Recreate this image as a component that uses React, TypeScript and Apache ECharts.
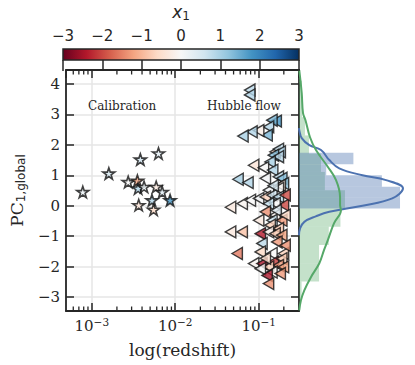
import React, { useEffect, useRef } from 'react';
import * as echarts from 'echarts';

// Calibration sample (stars)
const CAL_Z = [0.00078, 0.0016, 0.00382, 0.0063, 0.00273, 0.00352, 0.00359, 0.00423, 0.00591, 0.00697, 0.00867, 0.00526, 0.00365, 0.0055];
const CAL_PC1 = [0.45, 1.06, 1.52, 1.72, 0.78, 0.82, 0.57, 0.62, 0.62, 0.45, 0.18, 0.18, 0.02, -0.13];
const CAL_X1 = [0.2, 0.5, 0.6, 0.3, 0.0, -1.2, 0.9, 0.2, -0.3, 0.4, 1.8, 0.9, -0.4, -0.6];

// Hubble-flow sample (triangles)
const HF_Z = [0.078, 0.078, 0.162, 0.144, 0.131, 0.126, 0.0998, 0.083, 0.0647, 0.157, 0.172, 0.181, 0.150, 0.172, 0.137, 0.0869, 0.114, 0.147, 0.172, 0.189, 0.0565, 0.0743, 0.120, 0.198, 0.181, 0.172, 0.131, 0.046, 0.0634, 0.0794, 0.0998, 0.120, 0.144, 0.172, 0.198, 0.157, 0.131, 0.120, 0.157, 0.0998, 0.144, 0.189, 0.137, 0.172, 0.046, 0.0634, 0.1045, 0.131, 0.157, 0.189, 0.1094, 0.165, 0.0552, 0.1045, 0.144, 0.198, 0.0869, 0.1094, 0.150, 0.189, 0.172, 0.131, 0.198, 0.1045, 0.144, 0.181, 0.126, 0.131, 0.207, 0.149, 0.162, 0.207, 0.207, 0.120];
const HF_PC1 = [3.80, 3.64, 2.78, 2.81, 2.59, 2.32, 2.47, 2.43, 2.29, 1.77, 1.86, 1.77, 1.66, 1.61, 1.44, 1.33, 1.25, 1.17, 0.95, 0.90, 0.87, 0.76, 0.90, 0.73, 0.67, 0.57, 0.51, -0.05, 0.07, 0.18, 0.24, 0.29, 0.35, 0.29, 0.02, 0.07, 0.07, -0.20, -0.31, -0.48, -0.48, -0.48, -0.64, -0.75, -0.86, -0.86, -0.92, -0.86, -0.92, -0.97, -1.24, -1.19, -1.57, -1.52, -1.57, -1.57, -1.90, -1.90, -1.85, -1.74, -1.96, -2.01, -2.01, -2.07, -2.18, -2.23, -2.29, -2.56, 0.35, 0.66, -0.15, -0.31, -1.30, -1.73];
const HF_X1 = [0.8, 0.9, 1.8, 1.4, 0.9, 1.4, -0.2, 0.9, 1.0, -0.6, 0.7, 0.9, 1.3, 0.8, 1.0, -0.4, 0.0, 0.9, 0.7, 1.3, 1.0, 0.9, 0.1, 1.2, -0.5, 0.0, 0.1, -0.3, -0.1, 0.0, 0.1, -0.7, 0.6, 0.8, -2.0, 0.0, 0.7, -1.4, -0.1, -0.3, 0.7, -1.3, -0.7, -0.8, -0.3, -0.9, -2.4, -0.2, -0.8, -1.2, 0.8, -1.3, -1.6, -0.6, 0.0, -0.7, -0.1, -2.5, -2.1, -0.8, -1.3, -0.7, -1.2, 0.0, -0.1, -1.3, -2.5, -1.4, -2.0, 0.5, 0.4, -0.6, -1.4, -0.5];

// Marginal histograms (density)
const BLUE_EDGES = [-0.09, 0.26, 0.62, 1.0, 1.36, 1.74];
const BLUE_DENS = [0.78, 0.78, 0.64, 0.21, 0.42];
const GREEN_EDGES = [-3.09, -2.49, -1.89, -1.29, -0.69, -0.09, 0.51, 1.11, 1.71, 2.31, 2.91, 3.51, 4.11];
const GREEN_DENS = [0.02, 0.155, 0.155, 0.23, 0.32, 0.355, 0.2, 0.17, 0.077, 0.046, 0.023, 0.023];

// KDE curves
const BLUE_KDE_Y = [2.55, 2.48, 2.22, 1.99, 1.83, 1.5, 1.23, 1.0, 0.84, 0.57, 0.24, 0.0, -0.2, -0.35, -0.53, -0.75, -0.97];
const BLUE_KDE_D = [0, 0.002, 0.021, 0.08, 0.17, 0.234, 0.311, 0.49, 0.672, 0.803, 0.72, 0.49, 0.234, 0.13, 0.041, 0.008, 0];
const GREEN_KDE_Y = [4.46, 3.7, 3.04, 2.81, 2.25, 1.83, 1.28, 0.84, 0.29, 0.02, -0.15, -0.58, -1.14, -1.46, -1.89, -2.34, -2.78, -3.11, -3.44];
const GREEN_KDE_D = [0.002, 0.021, 0.031, 0.05, 0.085, 0.131, 0.222, 0.286, 0.317, 0.317, 0.324, 0.27, 0.222, 0.193, 0.157, 0.093, 0.041, 0.015, 0.002];

const MINOR_TICKS = [6e-4, 7e-4, 8e-4, 9e-4, 2e-3, 3e-3, 4e-3, 5e-3, 6e-3, 7e-3, 8e-3, 9e-3, 2e-2, 3e-2, 4e-2, 5e-2, 6e-2, 7e-2, 8e-2, 9e-2, 2e-1];

const RDBU = ['#67001f', '#b2182b', '#d6604d', '#f4a582', '#fddbc7', '#f7f7f7', '#d1e5f0', '#92c5de', '#4393c3', '#2166ac', '#053061'];

const X_MIN = 4.91e-4;
const X_MAX = 0.304;
const Y_MIN = -3.46;
const Y_MAX = 4.46;

const INK = '#262626';
const SERIF = 'DejaVu Serif';
const SANS = 'DejaVu Sans';
const STAR = 'path://M50,0 L61.8,35.1 L98.8,35.1 L68.8,57.3 L79.4,92.7 L50,71 L20.6,92.7 L31.2,57.3 L1.2,35.1 L38.2,35.1 Z';
const TRI = 'path://M0,50 L87,0 L87,100 Z';

function buildOption() {
  const cal = CAL_Z.map((z, i) => [z, CAL_PC1[i], CAL_X1[i]]);
  const hf = HF_Z.map((z, i) => [z, HF_PC1[i], HF_X1[i]]);
  const blueHist = BLUE_DENS.map((d, i) => [BLUE_EDGES[i], BLUE_EDGES[i + 1], d]);
  const greenHist = GREEN_DENS.map((d, i) => [GREEN_EDGES[i], GREEN_EDGES[i + 1], d]);
  const blueKde = BLUE_KDE_Y.map((y, i) => [BLUE_KDE_D[i], y]);
  const greenKde = GREEN_KDE_Y.map((y, i) => [GREEN_KDE_D[i], y]);

  const histRender = (fill: string) => (params: any, api: any) => {
    const lo = api.value(0);
    const hi = api.value(1);
    const d = api.value(2);
    const p1 = api.coord([0, hi]);
    const p2 = api.coord([d, lo]);
    return {
      type: 'rect',
      shape: { x: p1[0], y: p1[1], width: p2[0] - p1[0], height: p2[1] - p1[1] },
      style: { fill },
    };
  };

  const axisLine = { show: true, onZero: false, lineStyle: { color: INK, width: 1.8 } };
  const majorTick = { show: true, inside: true, length: 8, lineStyle: { color: INK, width: 1.5 } };
  const split = { show: true, lineStyle: { color: '#e6e6e6', width: 1.5 } };

  return {
    animation: false,
    backgroundColor: '#ffffff',
    grid: [
      { left: 64, top: 70, width: 235, height: 241 },
      { left: 299, top: 70, width: 106, height: 241 },
      { left: 63, top: 49, width: 236, height: 11, show: true, borderColor: INK, borderWidth: 1.5, backgroundColor: 'transparent', z: 10 },
    ],
    visualMap: {
      type: 'continuous',
      show: false,
      min: -3,
      max: 3,
      dimension: 2,
      seriesIndex: [0, 1],
      inRange: { color: RDBU },
    },
    graphic: [
      {
        type: 'rect',
        z: 1,
        shape: { x: 63, y: 49, width: 236, height: 11 },
        style: {
          fill: {
            type: 'linear', x: 0, y: 0, x2: 1, y2: 0,
            colorStops: RDBU.map((c, i) => ({ offset: i / (RDBU.length - 1), color: c })),
          },
        },
      },
      { type: 'text', z: 20, x: 88, y: 100, style: { text: 'Calibration', font: `12px "${SERIF}"`, fill: INK } },
      { type: 'text', z: 20, x: 207, y: 100, style: { text: 'Hubble flow', font: `12px "${SERIF}"`, fill: INK } },
    ],
    xAxis: [
      {
        type: 'log', gridIndex: 0, logBase: 10, min: X_MIN, max: X_MAX, position: 'bottom',
        axisLine, axisTick: majorTick, splitLine: split,
        axisLabel: {
          show: true, margin: 5, showMinLabel: false, showMaxLabel: false, color: INK,
          formatter: (v: number) => `{b|10}{s|−${Math.abs(Math.round(Math.log10(v)))}}`,
          rich: {
            b: { fontFamily: SERIF, fontSize: 15, color: INK },
            s: { fontFamily: SERIF, fontSize: 10.5, color: INK, padding: [0, 0, 9, 0] },
          },
        },
        name: 'log(redshift)', nameLocation: 'middle', nameGap: 30,
        nameTextStyle: { fontFamily: SERIF, fontSize: 17, color: INK },
      },
      {
        type: 'log', gridIndex: 0, logBase: 10, min: X_MIN, max: X_MAX, position: 'top',
        axisLine, axisTick: majorTick, splitLine: { show: false }, axisLabel: { show: false },
      },
      { type: 'value', gridIndex: 1, min: 0, max: 0.8185, show: false },
      {
        type: 'value', gridIndex: 2, min: -3, max: 3, interval: 1, position: 'top', z: 10,
        axisLine: { show: false }, splitLine: { show: false },
        axisTick: { show: true, inside: true, length: 11, lineStyle: { color: INK, width: 1.5 } },
        axisLabel: { show: true, margin: 6, fontFamily: SANS, fontSize: 15, color: INK, formatter: (v: number) => (v < 0 ? `−${-v}` : `${v}`) },
        name: '{i|x}{s|1}', nameLocation: 'middle', nameGap: 27,
        nameTextStyle: {
          rich: {
            i: { fontFamily: SANS, fontStyle: 'italic', fontSize: 17, color: INK },
            s: { fontFamily: SANS, fontSize: 12, color: INK, padding: [8, 0, 0, 0] },
          },
        },
      },
    ],
    yAxis: [
      {
        type: 'value', gridIndex: 0, min: Y_MIN, max: Y_MAX, splitNumber: 8, position: 'left',
        axisLine, axisTick: majorTick, splitLine: split,
        axisLabel: {
          show: true, margin: 6, showMinLabel: false, showMaxLabel: false,
          fontFamily: SERIF, fontSize: 15, color: INK,
          formatter: (v: number) => (v < 0 ? `−${-v}` : `${v}`),
        },
        name: '{a|PC}{b|1,global}', nameLocation: 'middle', nameRotate: 90, nameGap: 30,
        nameTextStyle: {
          rich: {
            a: { fontFamily: SERIF, fontSize: 17, color: INK },
            b: { fontFamily: SANS, fontSize: 12, color: INK, padding: [9, 0, 0, 0] },
          },
        },
      },
      {
        type: 'value', gridIndex: 0, min: Y_MIN, max: Y_MAX, splitNumber: 8, position: 'right',
        axisLine, axisTick: majorTick, splitLine: { show: false }, axisLabel: { show: false },
      },
      { type: 'value', gridIndex: 1, min: Y_MIN, max: Y_MAX, show: false },
      { type: 'value', gridIndex: 2, min: 0, max: 1, show: false },
    ],
    series: [
      {
        type: 'scatter', xAxisIndex: 0, yAxisIndex: 0, data: cal,
        symbol: STAR, symbolSize: 12, symbolKeepAspect: true,
        itemStyle: { borderColor: '#111', borderWidth: 1.6 }, z: 5,
      },
      {
        type: 'scatter', xAxisIndex: 0, yAxisIndex: 0, data: hf,
        symbol: TRI, symbolSize: 12, symbolKeepAspect: true,
        itemStyle: { borderColor: '#111', borderWidth: 1.4 }, z: 5,
      },
      {
        type: 'custom', xAxisIndex: 0, yAxisIndex: 0, silent: true, z: 6,
        data: MINOR_TICKS.map((v) => [v, 0]), encode: { x: 0, y: 1 },
        renderItem: (params: any, api: any) => {
          const cs = params.coordSys;
          const px = api.coord([api.value(0), 0])[0];
          const st = { stroke: INK, lineWidth: 1.3 };
          return {
            type: 'group',
            children: [
              { type: 'line', shape: { x1: px, y1: cs.y + cs.height, x2: px, y2: cs.y + cs.height - 4.5 }, style: st },
              { type: 'line', shape: { x1: px, y1: cs.y, x2: px, y2: cs.y + 4.5 }, style: st },
            ],
          };
        },
      },
      {
        type: 'custom', xAxisIndex: 2, yAxisIndex: 2, silent: true,
        data: greenHist, encode: { x: 2, y: [0, 1] },
        renderItem: histRender('rgba(85,168,104,0.35)'),
      },
      {
        type: 'custom', xAxisIndex: 2, yAxisIndex: 2, silent: true,
        data: blueHist, encode: { x: 2, y: [0, 1] },
        renderItem: histRender('rgba(76,114,176,0.4)'),
      },
      {
        type: 'line', xAxisIndex: 2, yAxisIndex: 2, data: blueKde, showSymbol: false, smooth: 0.4,
        lineStyle: { color: '#4c72b0', width: 2 }, silent: true,
      },
      {
        type: 'line', xAxisIndex: 2, yAxisIndex: 2, data: greenKde, showSymbol: false, smooth: 0.4,
        lineStyle: { color: '#55a868', width: 2 }, silent: true,
      },
    ],
  };
}

export default function App() {
  const ref = useRef<HTMLDivElement>(null);
  useEffect(() => {
    const chart = echarts.init(ref.current!, null, { renderer: 'svg' });
    chart.setOption(buildOption() as any);
    return () => chart.dispose();
  }, []);
  return <div ref={ref} style={{ position: 'absolute', left: 0, top: 0, width: 415, height: 365 }} />;
}
